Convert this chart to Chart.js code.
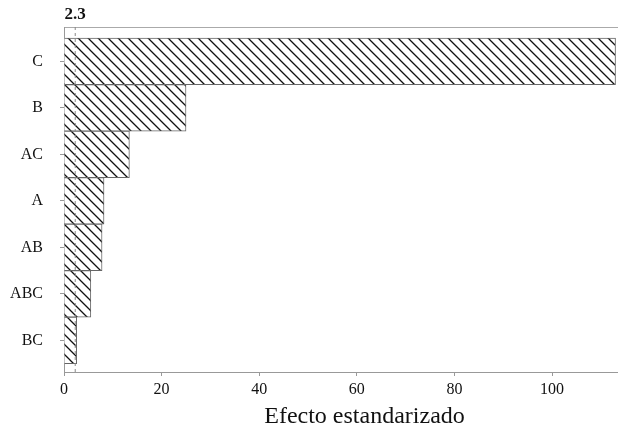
<!DOCTYPE html>
<html>
<head>
<meta charset="utf-8">
<script src="https://cdn.jsdelivr.net/npm/chart.js@4"></script>
<style>
  html, body { margin: 0; padding: 0; background: #fff; }
  #wrap { width: 626px; height: 431px; }
</style>
</head>
<body>
<div id="wrap"><canvas id="myChart" width="626" height="431"></canvas></div>
<script>
// datos del grafico de Pareto
const categorias = ['C', 'B', 'AC', 'A', 'AB', 'ABC', 'BC'];
const efectos = [113, 25, 13.4, 8.2, 7.8, 5.5, 2.6];
const ticksX = [0, 20, 40, 60, 80, 100];
const limite = 2.3;
const xMax = 113.3;

// patron de rayas diagonales
function rayado() {
  const c = document.createElement('canvas');
  c.width = 10; c.height = 10;
  const g = c.getContext('2d');
  g.fillStyle = '#fff';
  g.fillRect(0, 0, 10, 10);
  g.strokeStyle = '#111';
  g.lineWidth = 1.3;
  g.beginPath();
  g.moveTo(-1, -1); g.lineTo(11, 11);
  g.moveTo(-6, 4); g.lineTo(6, 16);
  g.moveTo(4, -6); g.lineTo(16, 6);
  g.stroke();
  return g.createPattern(c, 'repeat');
}

// linea de referencia discontinua + etiqueta
const lineaRef = {
  id: 'lineaRef',
  afterDatasetsDraw(chart) {
    const { ctx, chartArea, scales } = chart;
    const x = scales.x.getPixelForValue(limite);
    ctx.save();
    ctx.strokeStyle = '#888';
    ctx.lineWidth = 1;
    ctx.setLineDash([3, 3]);
    ctx.beginPath();
    ctx.moveTo(x, chartArea.top);
    ctx.lineTo(x, chartArea.bottom);
    ctx.stroke();
    ctx.setLineDash([]);
    ctx.fillStyle = '#111';
    ctx.font = 'bold 17px "Liberation Serif"';
    ctx.textAlign = 'center';
    ctx.textBaseline = 'bottom';
    ctx.fillText(String(limite), x, chartArea.top - 4);
    ctx.restore();
  }
};

const ctx = document.getElementById('myChart').getContext('2d');

const myChart = new Chart(ctx, {
  type: 'bar',
  data: {
    datasets: [{
      data: efectos.map((v, i) => ({ x: v, y: i })),
      backgroundColor: rayado(),
      borderColor: '#666',
      borderWidth: 1,
      barPercentage: 1,
      categoryPercentage: 1
    }]
  },
  options: {
    indexAxis: 'y',
    responsive: false,
    animation: false,
    layout: { padding: { right: 9 } },
    plugins: { legend: { display: false }, tooltip: { enabled: false } },
    scales: {
      x: {
        type: 'linear',
        position: 'bottom',
        min: 0,
        max: xMax,
        afterBuildTicks: s => { s.ticks = ticksX.map(v => ({ value: v })); },
        afterFit: s => { s.height = 59; },
        grid: { display: true, drawOnChartArea: false, drawTicks: true, tickLength: 4, color: '#999' },
        border: { display: true, color: '#999', width: 1 },
        ticks: { color: '#111', padding: 4, font: { family: 'Liberation Serif', size: 16 }, maxRotation: 0 },
        title: {
          display: true,
          text: '\u2002\u2002\u2002\u2002Efecto estandarizado',
          color: '#111',
          font: { family: 'Liberation Serif', size: 24 },
          padding: { top: 0, bottom: 0 }
        }
      },
      x2: {
        type: 'linear',
        position: 'top',
        axis: 'x',
        min: 0,
        max: xMax,
        afterFit: s => { s.height = 27; },
        grid: { display: false },
        border: { display: true, color: '#aaa', width: 1 },
        ticks: { display: false }
      },
      y: {
        type: 'linear',
        offset: false,
        min: -0.74,
        max: 6.68,
        reverse: true,
        afterBuildTicks: s => { s.ticks = categorias.map((c, i) => ({ value: i })); },
        afterFit: s => { s.width = 64; },
        grid: { display: true, offset: false, drawOnChartArea: false, drawTicks: true, tickLength: 4, color: '#999' },
        border: { display: true, color: '#999', width: 1 },
        ticks: {
          color: '#111',
          padding: 17,
          font: { family: 'Liberation Serif', size: 16 },
          callback: v => categorias[v]
        }
      }
    }
  },
  plugins: [lineaRef]
});
</script>
</body>
</html>
